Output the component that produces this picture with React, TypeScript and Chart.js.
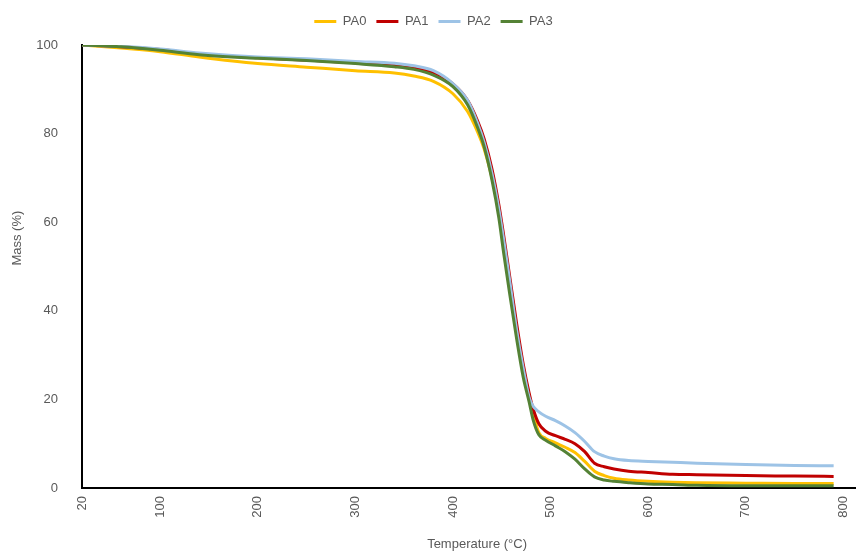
import React, { useEffect, useRef } from "react";
import { Chart, registerables } from "chart.js";

Chart.register(...registerables);

const temps = [20, 60, 100, 140, 200, 250, 300, 340, 360, 380, 400, 415, 425, 432, 440, 447, 452, 458, 465, 472, 478, 482, 488, 495, 505, 515, 525, 535, 545, 555, 565, 580, 600, 625, 650, 700, 750, 790];

const pa0 = [100, 99.3, 98.5, 97.3, 95.8, 95.0, 94.2, 93.7, 93.0, 91.8, 89.0, 85.0, 80.5, 76.5, 70.0, 62.5, 55.0, 46.0, 36.0, 27.0, 21.0, 17.0, 12.5, 11.2, 10.2, 9.2, 8.0, 6.0, 3.8, 2.8, 2.2, 1.8, 1.5, 1.3, 1.2, 1.1, 1.0, 1.0];
const pa1 = [100, 99.6, 99.0, 98.0, 97.1, 96.6, 96.0, 95.6, 95.0, 93.8, 91.2, 87.5, 83.0, 78.8, 72.0, 64.0, 57.0, 48.0, 37.5, 28.0, 21.5, 18.0, 14.5, 12.8, 11.8, 11.0, 10.0, 8.2, 5.6, 4.8, 4.3, 3.8, 3.5, 3.1, 3.0, 2.8, 2.7, 2.6];
const pa2 = [100, 99.7, 99.1, 98.2, 97.3, 96.9, 96.3, 95.9, 95.3, 94.2, 91.3, 87.5, 82.5, 78.0, 71.0, 63.0, 56.0, 47.0, 36.0, 27.0, 20.5, 18.5, 17.2, 16.2, 15.2, 14.0, 12.5, 10.5, 8.2, 7.2, 6.6, 6.2, 6.0, 5.8, 5.6, 5.3, 5.1, 5.0];
const pa3 = [100, 99.6, 98.8, 97.8, 97.0, 96.5, 95.8, 95.1, 94.5, 93.2, 90.6, 86.5, 81.5, 77.0, 69.5, 61.0, 53.0, 44.0, 34.0, 25.0, 19.5, 15.5, 12.0, 10.8, 9.5, 8.2, 6.5, 4.3, 2.5, 1.8, 1.5, 1.2, 0.9, 0.8, 0.6, 0.5, 0.5, 0.5];

const seriesNames = ["PA0", "PA1", "PA2", "PA3"];
const seriesColors = ["#FFC000", "#C00000", "#9DC3E6", "#548235"];
const seriesValues = [pa0, pa1, pa2, pa3];
const drawOrder = [3, 2, 1, 0];

const xTicks = [20, 100, 200, 300, 400, 500, 600, 700, 800];
const yTicks = [0, 20, 40, 60, 80, 100];

const xTitle = "Temperature (°C)";
const yTitle = "Mass (%)";

const FONT = '"Liberation Sans", Arial, sans-serif';
const TEXT = "#595959";

const axisTitles = {
  id: "axisTitles",
  beforeInit(chart: any) {
    const legend = chart.legend;
    if (legend) {
      const origFit = legend.fit;
      legend.fit = function () {
        origFit.call(this);
        this.height += 7;
      };
    }
  },
  afterDraw(chart: any) {
    const { ctx, chartArea } = chart;
    ctx.save();
    ctx.font = `13px ${FONT}`;
    ctx.fillStyle = TEXT;
    ctx.textAlign = "center";
    ctx.textBaseline = "middle";
    const xPos = chartArea.left + (chartArea.right - chartArea.left) * 0.511;
    ctx.fillText(xTitle, xPos, chartArea.bottom + 56);
    ctx.translate(chartArea.left - 65, chartArea.top + (chartArea.bottom - chartArea.top) * 0.436);
    ctx.rotate(-Math.PI / 2);
    ctx.fillText(yTitle, 0, 0);
    ctx.restore();
  },
};

export default function App() {
  const ref = useRef<HTMLCanvasElement>(null);
  useEffect(() => {
    if (!ref.current) return;
    const chart = new Chart(ref.current, {
      type: "line",
      data: {
        datasets: seriesNames.map((name, i) => ({
          label: name,
          data: temps.map((t, j) => ({ x: t, y: seriesValues[i][j] })),
          borderColor: seriesColors[i],
          backgroundColor: seriesColors[i],
          borderWidth: 3,
          pointRadius: 0,
          cubicInterpolationMode: "monotone" as const,
          order: drawOrder[i],
        })),
      },
      options: {
        animation: false,
        responsive: false,
        maintainAspectRatio: false,
        layout: { padding: { top: 5, right: 0, left: 0, bottom: 0 } },
        plugins: {
          legend: {
            position: "top",
            labels: {
              usePointStyle: true,
              pointStyle: "line",
              pointStyleWidth: 22,
              boxHeight: 13,
              padding: 10,
              color: TEXT,
              font: { family: FONT, size: 13 },
              sort: (a: any, b: any) => a.datasetIndex - b.datasetIndex,
            },
          },
          tooltip: { enabled: false },
        },
        scales: {
          x: {
            type: "linear",
            min: 20,
            max: 812,
            grid: { display: false, drawTicks: false },
            border: { display: true, color: "#000000", width: 2 },
            ticks: {
              color: TEXT,
              font: { family: FONT, size: 13 },
              minRotation: 90,
              maxRotation: 90,
              padding: 8,
            },
            afterBuildTicks: (scale: any) => {
              scale.ticks = xTicks.map((v) => ({ value: v }));
            },
            afterFit: (scale: any) => {
              scale.height = 63;
            },
          },
          y: {
            min: 0,
            max: 100,
            grid: { display: false, drawTicks: false },
            border: { display: true, color: "#000000", width: 2 },
            ticks: {
              color: TEXT,
              font: { family: FONT, size: 13 },
              padding: 24,
            },
            afterBuildTicks: (scale: any) => {
              scale.ticks = yTicks.map((v) => ({ value: v }));
            },
            afterFit: (scale: any) => {
              scale.width = 82;
            },
          },
        },
      },
      plugins: [axisTitles],
    });
    return () => chart.destroy();
  }, []);
  return (
    <div style={{ position: "fixed", left: 0, top: 0, width: 867, height: 551, background: "#fff" }}>
      <canvas ref={ref} width={867} height={551} style={{ width: 867, height: 551, display: "block" }} />
    </div>
  );
}
